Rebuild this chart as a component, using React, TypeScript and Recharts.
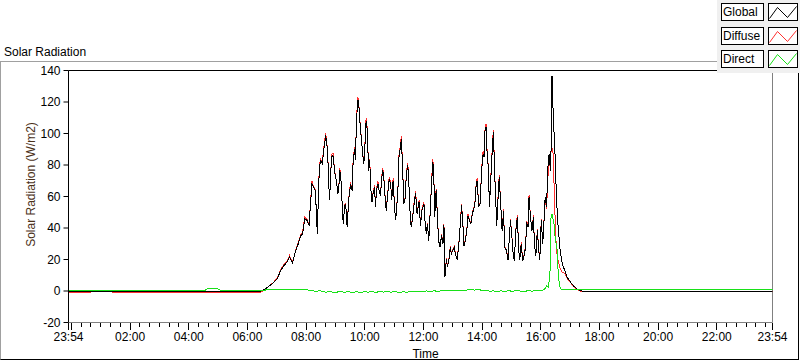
import React from "react";
import { LineChart, Line, XAxis, YAxis, ReferenceLine } from "recharts";

// minutes since 23:54 (start of the record)
const minutes = [
  0, 44, 46, 90, 92, 240, 389, 395, 403, 417,
  427, 434, 440, 447, 452, 458, 464, 470, 475, 479,
  483, 488, 492, 495, 498, 501, 505, 509, 512, 515,
  519, 522, 526, 530, 532, 534, 538, 541, 545, 548,
  551, 553, 555, 558, 560, 562, 565, 567, 570, 573,
  577, 580, 582, 585, 587, 589, 592, 595, 597, 599,
  601, 604, 606, 608, 610, 612, 614, 616, 619, 621,
  623, 626, 628, 630, 633, 635, 638, 641, 643, 646,
  648, 650, 653, 656, 659, 661, 664, 667, 669, 671,
  674, 676, 679, 681, 683, 686, 689, 691, 694, 696,
  698, 701, 704, 706, 710, 713, 717, 720, 723, 727,
  729, 732, 734, 737, 740, 742, 745, 747, 749, 752,
  755, 757, 760, 763, 766, 768, 770, 773, 775, 778,
  781, 783, 786, 789, 792, 795, 798, 801, 804, 807,
  809, 812, 815, 817, 820, 823, 826, 828, 831, 834,
  836, 839, 842, 845, 848, 850, 852, 854, 856, 859,
  861, 863, 866, 869, 871, 873, 876, 878, 881, 884,
  887, 890, 892, 896, 899, 901, 904, 907, 910, 912,
  915, 918, 921, 923, 926, 929, 931, 935, 937, 940,
  942, 945, 948, 951, 953, 956, 959, 962, 964, 967,
  970, 972, 975, 978, 980, 983, 986, 988, 989, 991,
  993, 996, 998, 1001, 1004, 1006, 1010, 1015, 1020, 1027,
  1034, 1040, 1047, 1058, 1440,
];

const globalWm2 = [
  -0.5, -0.5, -0.5, -0.5, -0.5, -0.5, -0.5, 0.3, 1.4, 4.6,
  7.7, 13, 16, 18.3, 21.5, 17.7, 24.6, 30, 35, 36.3,
  45.8, 44.8, 41.6, 55.4, 68, 66, 63.8, 36.3, 70, 82.9,
  81, 89, 98.7, 89, 70, 57.5, 85, 86, 74.4, 70,
  61.7, 66, 76.5, 68, 53, 42.7, 54.3, 55, 40.5, 57.5,
  68, 63.8, 80.8, 90.3, 82.9, 108.3, 121.4, 114.6, 101.9, 97.6,
  89.2, 80.8, 89, 106.2, 108, 93.5, 76.5, 82.9, 61.7, 56.4,
  61.7, 65.9, 53.2, 64, 68, 64, 60.6, 72.3, 76.5, 68,
  57.5, 51, 61.7, 71.2, 68, 57.5, 70, 53.2, 44.8, 51,
  65.9, 85, 91.3, 96.6, 80.8, 55.4, 59.6, 74.4, 79.7, 70,
  53.2, 40.5, 47, 53.2, 62, 49, 56.4, 41.6, 51.1, 55.4,
  44.8, 36.3, 42.7, 32, 51, 63.8, 81.8, 77.6, 46.9, 63.8,
  44.8, 32, 27.8, 35.2, 30, 41.6, 8.8, 20.4, 15.1, 19.4,
  27.8, 23.6, 25.7, 27.8, 22.5, 20.4, 27.8, 40.5, 54.3, 40.5,
  28.9, 32, 39.5, 47.9, 44.8, 42.7, 49, 51.1, 54.3, 68,
  70, 53.2, 55.4, 76.5, 87.1, 85, 101.9, 104, 89.2, 76.5,
  53.2, 65.9, 85, 100.8, 82.9, 63.8, 41.6, 55.4, 72.3, 55,
  38, 51, 27.8, 25.7, 19.4, 30, 44.8, 34.2, 21.5, 19.4,
  38.4, 46.9, 25.7, 19.4, 30, 19.4, 21, 27.8, 43.7, 40.5,
  59.6, 46.9, 38.4, 46.9, 30, 22.5, 38.4, 25.7, 19.4, 44.8,
  30, 40.5, 59.6, 53.2, 76.5, 87.1, 76.5, 101.9, 136.8, 116.7,
  101.9, 80.8, 59.6, 42.7, 32, 24.6, 17.3, 13, 8.8, 5.6,
  2.9, 1.4, 0.3, -0.5, -0.5,
];

const diffuseWm2 = [
  -1.2, -1.2, -0.5, -0.5, -1.2, -1.2, -1.2, -0.5, 1.2, 4.8,
  8, 13.5, 16.5, 18.8, 22.5, 17.9, 25, 31, 35.5, 37.5,
  47, 45.5, 41.6, 56, 70, 66.5, 64, 36.3, 71, 84,
  82, 90.5, 100.5, 89.5, 70, 57.5, 86.5, 87.5, 75, 70,
  61.7, 66.5, 78, 68, 53, 42.7, 55, 55.5, 40.5, 58,
  69, 64, 82, 91.5, 83, 109.5, 123, 115, 102.5, 98,
  89.5, 81, 90, 108, 109.5, 94, 77, 84, 62, 56.4,
  62.5, 67, 53.2, 65, 69.5, 64, 61, 73.5, 78, 68.5,
  57.5, 51, 62.5, 72.5, 68.5, 57.5, 71.5, 53.5, 44.8, 51.5,
  66.5, 86.5, 93, 98.5, 81.5, 55.4, 60, 75.5, 81, 70.5,
  53.2, 40.5, 47.5, 54, 63.5, 49.5, 57.5, 41.6, 52, 56.5,
  45, 36.3, 43, 32, 51.5, 65, 83.5, 78, 47, 65,
  45, 32, 28, 36, 30.5, 42.5, 8.8, 21, 15.5, 20,
  28.5, 24, 26, 28.5, 23, 20.5, 28.5, 41, 55.5, 41,
  29, 32.5, 40, 49, 45, 43, 49.5, 52, 55, 69,
  71.5, 53.5, 56, 77.5, 88.5, 86, 103, 106, 90, 77,
  53.2, 66.5, 86, 102.5, 83.5, 64, 41.6, 56, 73.5, 55.5,
  38, 52, 28, 26, 19.4, 30.5, 45.5, 34.5, 21.5, 19.4,
  39, 48, 26, 19.4, 31, 19.4, 21.5, 28.5, 44.5, 41,
  61, 47, 38.4, 48, 30, 22.5, 39.5, 26, 19.4, 45.5,
  30, 41, 58, 52, 70, 80, 85, 91.3, 91, 88,
  70, 40, 26, 20, 16, 14, 12, 11, 8, 5.2,
  2.6, 1.2, 0, -0.6, -0.6,
];

const directMinutes = [
  0, 280, 284, 305, 310, 400, 420, 440, 460, 480,
  495, 505, 515, 525, 535, 545, 555, 565, 572, 580,
  590, 598, 605, 613, 620, 628, 636, 644, 652, 660,
  668, 676, 684, 692, 700, 708, 716, 724, 732, 740,
  748, 756, 764, 772, 780, 790, 800, 810, 820, 830,
  840, 848, 856, 862, 868, 876, 884, 892, 900, 908,
  916, 924, 932, 940, 948, 956, 964, 970, 975, 978,
  982, 985, 986, 989, 993, 996, 999, 1001, 1003, 1006,
  1012, 1020, 1440,
];

const directWm2 = [
  0.6, 0.6, 1.4, 1.4, 0.6, 0.6, 0.8, 0.9, 0.7, 0.9,
  0.5, -0.3, 0.2, -0.7, -0.5, -0.9, -0.4, -0.8, -0.3, -0.9,
  -0.5, -1, -0.4, -0.8, -0.2, -0.9, -0.4, -0.7, -0.2, -0.8,
  -0.3, -1, -0.5, -0.8, -0.3, -0.6, -0.2, -0.5, 0.1, -0.3,
  0.2, -0.4, 0.3, 0, 0.5, 0.3, 0.6, 0.4, 0.8, 0.6,
  0.8, 0.3, 0.6, -0.3, 0.2, -0.5, 0.1, -0.3, 0.2, -0.2,
  0.3, 0, -0.3, 0.2, -0.1, 0.3, 0, 0.5, 1.5, 3.5,
  2.5, 13, 44.8, 49, 42.7, 32, 28, 15.1, 6.7, 1.4,
  0.7, 0.8, 0.8,
];

const yTicks = [-20, 0, 20, 40, 60, 80, 100, 120, 140];
const majorTickMinutes = [0, 126, 246, 366, 486, 606, 726, 846, 966, 1086, 1206, 1326, 1440];
const majorTickLabels = ["23:54", "02:00", "04:00", "06:00", "08:00", "10:00", "12:00", "14:00", "16:00", "18:00", "20:00", "22:00", "23:54"];

const seriesNames = ["Global", "Diffuse", "Direct"];
const seriesColors = ["#000000", "#ff3030", "#18e018"];

// every 20 minutes from 00:00, plus both 23:54 ends
const xTicks: number[] = [0];
for (let t = 6; t < 1440; t += 20) xTicks.push(t);
xTicks.push(1440);

const globalData = minutes.map((t, i) => ({ t, v: globalWm2[i] }));
const diffuseData = minutes.map((t, i) => ({ t, v: diffuseWm2[i] }));
const directData = directMinutes.map((t, i) => ({ t, v: directWm2[i] }));

const TimeTick = (props: any) => {
  const { x, y, payload } = props;
  const t = payload.value;
  const idx = majorTickMinutes.indexOf(t);
  const major = idx >= 0 || (t - 6) % 120 === 0;
  return (
    <g>
      <line x1={x} x2={x} y1={y} y2={y + (major ? 7 : 4)} stroke="#000" shapeRendering="crispEdges" />
      {idx >= 0 && (
        <text x={x} y={y + 18} textAnchor="middle" fontSize={12} fill="#000">
          {majorTickLabels[idx]}
        </text>
      )}
    </g>
  );
};

const YLabel = (props: any) => {
  const vb = props.viewBox;
  const cx = vb.x + 22.5;
  const cy = vb.y + vb.height / 2 - 12;
  return (
    <text
      x={cx}
      y={cy}
      transform={`rotate(-90 ${cx} ${cy})`}
      textAnchor="middle"
      dominantBaseline="central"
      fontSize={12}
      fill="#4a3018"
    >
      Solar Radiation (W/m2)
    </text>
  );
};

const XLabel = (props: any) => {
  const vb = props.viewBox;
  return (
    <text x={vb.x + vb.width / 2 + 5} y={vb.y + 35} textAnchor="middle" fontSize={12} fill="#000">
      Time
    </text>
  );
};

export default function App() {
  return (
    <div
      style={{
        position: "absolute",
        left: 0,
        top: 0,
        width: 800,
        height: 361,
        background: "#fff",
        overflow: "hidden",
        fontFamily: "'Liberation Sans', Arial, sans-serif",
        color: "#000",
      }}
    >
      <style>{".recharts-line-curve{shape-rendering:crispEdges}"}</style>
      <div
        style={{
          position: "absolute",
          left: 0,
          top: 61,
          width: 799,
          height: 299,
          boxSizing: "border-box",
          borderLeft: "1px solid #a0a0a0",
          borderTop: "1px solid #a0a0a0",
          borderRight: "1px solid #000",
          borderBottom: "1px solid #000",
        }}
      />
      <div style={{ position: "absolute", left: 4, top: 45, fontSize: 12, lineHeight: "14px" }}>
        Solar Radiation
      </div>
      <div style={{ position: "absolute", left: 0, top: 0 }}>
        <LineChart width={800} height={361} margin={{ top: 70.5, right: 27.5, bottom: 8.5, left: 8.5 }}>
          <XAxis
            type="number"
            dataKey="t"
            domain={[0, 1440]}
            ticks={xTicks}
            interval={0}
            tick={<TimeTick />}
            tickSize={0}
            tickMargin={0}
            tickLine={false}
            axisLine={{ stroke: "#808080" }}
            height={30}
            label={<XLabel />}
            allowDataOverflow
          />
          <YAxis
            type="number"
            domain={[-20, 140]}
            ticks={yTicks}
            interval={0}
            width={60}
            tickSize={5}
            tickMargin={3}
            tick={{ fill: "#000", fontSize: 12 }}
            tickLine={{ stroke: "#000" }}
            axisLine={{ stroke: "#000" }}
            label={<YLabel />}
            allowDataOverflow
          />
          <ReferenceLine y={140} stroke="#000" />
          <ReferenceLine x={1440} stroke="#808080" />
          <Line
            data={diffuseData}
            dataKey="v"
            name="Diffuse"
            type="linear"
            stroke={seriesColors[1]}
            strokeWidth={1}
            dot={false}
            activeDot={false}
            isAnimationActive={false}
          />
          <Line
            data={globalData}
            dataKey="v"
            name="Global"
            type="linear"
            stroke={seriesColors[0]}
            strokeWidth={1}
            dot={false}
            activeDot={false}
            isAnimationActive={false}
          />
          <Line
            data={directData}
            dataKey="v"
            name="Direct"
            type="linear"
            stroke={seriesColors[2]}
            strokeWidth={1}
            dot={false}
            activeDot={false}
            isAnimationActive={false}
          />
        </LineChart>
      </div>
      <div style={{ position: "absolute", left: 717, top: 0, width: 83, height: 73, background: "#f0f0f0" }}>
        {seriesNames.map((name, i) => {
          const top = Math.round(3 + i * 23.5);
          return (
            <React.Fragment key={name}>
              <div
                style={{
                  position: "absolute",
                  left: 4,
                  top,
                  width: 43,
                  height: 18,
                  boxSizing: "border-box",
                  border: "1px solid #000",
                  background: "#fff",
                  fontSize: 12,
                  lineHeight: "16px",
                  paddingLeft: 1,
                }}
              >
                {name}
              </div>
              <svg style={{ position: "absolute", left: 51, top }} width={30} height={18}>
                <rect x={0.5} y={0.5} width={29} height={17} fill="#fff" stroke="#000" />
                <polyline points="1.5,15.5 9.5,4.5 19.5,14.5 28.5,3.5" fill="none" stroke={seriesColors[i]} />
              </svg>
            </React.Fragment>
          );
        })}
      </div>
    </div>
  );
}
